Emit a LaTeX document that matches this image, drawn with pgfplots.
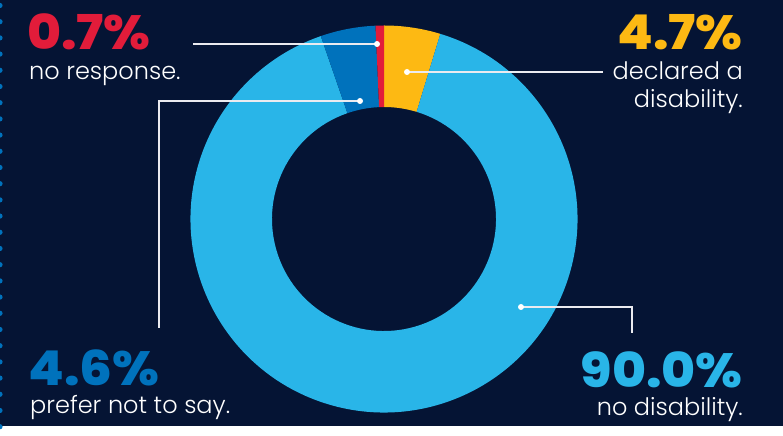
\documentclass[border=0pt]{standalone}
\usepackage{pgfplots}
\usepackage{pgfplotstable}
\pgfplotsset{compat=1.18}
\usepackage{fontspec}
\setmainfont{Poppins}
\newfontfamily\lightfont{Poppins Light}
\newfontfamily\numfont{Poppins ExtraBold}[FakeStretch=1.08]
\definecolor{bg}{RGB}{5,20,52}
\definecolor{cyellow}{RGB}{253,185,19}
\definecolor{clight}{RGB}{41,181,232}
\definecolor{cdark}{RGB}{0,114,188}
\definecolor{cred}{RGB}{226,28,58}
\definecolor{cline}{RGB}{235,235,240}
\pgfplotstableread{
label col value
declared cyellow 4.7
nodis clight 90.0
prefer cdark 4.6
noresp cred 0.7
}\piedata
\begin{document}
\begin{tikzpicture}
\begin{axis}[x=1pt,y=1pt,xmin=0,xmax=783,ymin=0,ymax=426,hide axis,clip=false]
\fill[bg] (axis cs:0,0) rectangle (axis cs:783,426);
\pgfplotstablegetrowsof{\piedata}
\pgfmathtruncatemacro\nrows{\pgfplotsretval-1}
\def\angstart{90}
\pgfplotsforeachungrouped \i in {0,...,\nrows}{%
  \pgfplotstablegetelem{\i}{value}\of\piedata \let\val\pgfplotsretval
  \pgfplotstablegetelem{\i}{col}\of\piedata \let\col\pgfplotsretval
  \pgfmathsetmacro\angend{\angstart-3.6*\val}
  \pgfmathsetmacro\xa{384+193.5*cos(\angstart)}
  \pgfmathsetmacro\ya{207+193.5*sin(\angstart)}
  \pgfmathsetmacro\xb{384+112*cos(\angend)}
  \pgfmathsetmacro\yb{207+112*sin(\angend)}
  \edef\cmd{\noexpand\fill[\col] (axis cs:\xa,\ya) arc[start angle=\angstart,end angle=\angend,radius=193.5pt] -- (axis cs:\xb,\yb) arc[start angle=\angend,end angle=\angstart,radius=112pt] -- cycle;}
  \cmd
  \let\angstart\angend
}
% leader lines
\draw[cline,line width=1.2pt] (axis cs:377,382) -- (axis cs:193,382);
\draw[cline,line width=1.2pt] (axis cs:407,354) -- (axis cs:603,354);
\draw[cline,line width=1.2pt] (axis cs:360,325) -- (axis cs:159,325) -- (axis cs:159,98);
\draw[cline,line width=1.2pt] (axis cs:521,119) -- (axis cs:632,119) -- (axis cs:632,93);
\fill[white] (axis cs:377,382) circle[radius=3pt];
\fill[white] (axis cs:407,354) circle[radius=3pt];
\fill[white] (axis cs:360,325) circle[radius=3pt];
\fill[white] (axis cs:521,119) circle[radius=3pt];
% dotted left border
\pgfplotsinvokeforeach{0,...,26}{\fill[cdark,overlay] (axis cs:0,{420.5-16.2*#1}) circle[radius=2.6pt];}
% labels
\node[anchor=base west,inner sep=0pt,text=cred,font=\numfont\fontsize{48}{48}\selectfont] at (axis cs:27,376) {0.7\%};
\node[anchor=base west,inner sep=0pt,text=white,font=\lightfont\fontsize{24}{24}\selectfont] at (axis cs:29,346) {no response.};
\node[anchor=base east,inner sep=0pt,text=cyellow,font=\numfont\fontsize{48}{48}\selectfont] at (axis cs:743,376) {4.7\%};
\node[anchor=base east,inner sep=0pt,text=white,font=\lightfont\fontsize{24}{24}\selectfont] at (axis cs:743,346) {declared a};
\node[anchor=base east,inner sep=0pt,text=white,font=\lightfont\fontsize{24}{24}\selectfont] at (axis cs:743,318) {disability.};
\node[anchor=base west,inner sep=0pt,text=cdark,font=\numfont\fontsize{48}{48}\selectfont] at (axis cs:28,41) {4.6\%};
\node[anchor=base west,inner sep=0pt,text=white,font=\lightfont\fontsize{24}{24}\selectfont] at (axis cs:30,13) {prefer not to say.};
\node[anchor=base east,inner sep=0pt,text=clight,font=\numfont\fontsize{48}{48}\selectfont] at (axis cs:743,38) {90.0\%};
\node[anchor=base east,inner sep=0pt,text=white,font=\lightfont\fontsize{24}{24}\selectfont] at (axis cs:743,11) {no disability.};
\end{axis}
\end{tikzpicture}
\end{document}
